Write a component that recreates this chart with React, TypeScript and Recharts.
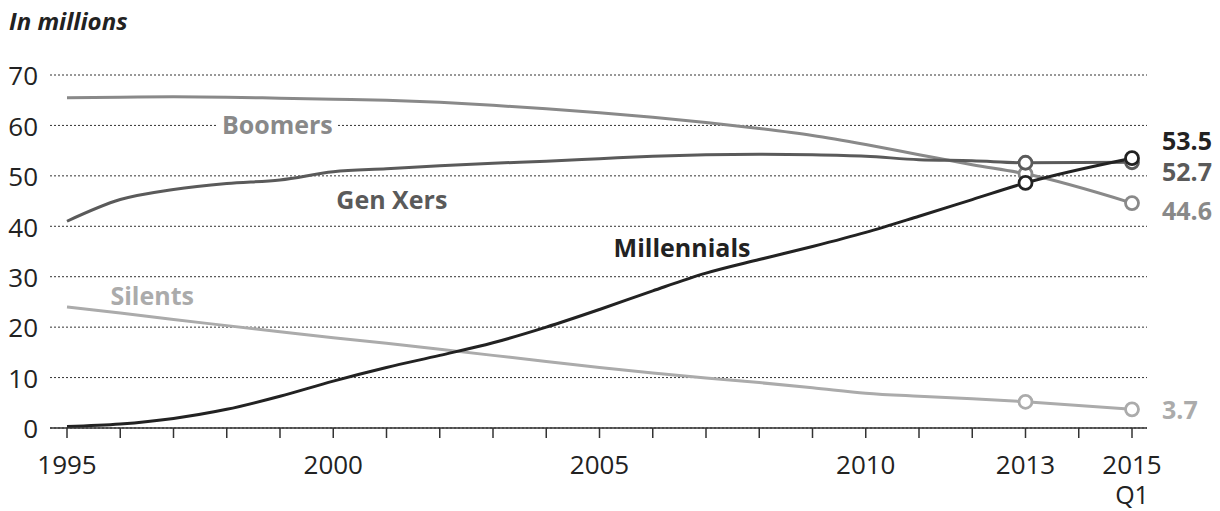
import { LineChart, Line, XAxis, YAxis, CartesianGrid, ReferenceDot } from "recharts";

const years = [1995, 1996, 1997, 1998, 1999, 2000, 2001, 2002, 2003, 2004, 2005, 2006, 2007, 2008, 2009, 2010, 2011, 2012, 2013, 2015];
const millennials = [0.3, 0.8, 1.9, 3.7, 6.3, 9.3, 12.0, 14.4, 16.9, 20.0, 23.5, 27.2, 30.7, 33.4, 36.0, 38.8, 42.0, 45.3, 48.6, 53.5];
const genXers = [41.0, 45.3, 47.3, 48.5, 49.2, 50.8, 51.4, 52.0, 52.5, 52.9, 53.4, 53.9, 54.2, 54.3, 54.2, 53.9, 53.2, 53.0, 52.6, 52.7];
const boomers = [65.5, 65.6, 65.7, 65.6, 65.4, 65.2, 65.0, 64.6, 64.0, 63.3, 62.5, 61.6, 60.6, 59.4, 58.0, 56.2, 54.2, 52.2, 50.4, 44.6];
const silents = [24.0, 22.8, 21.5, 20.3, 19.1, 17.9, 16.8, 15.6, 14.4, 13.2, 12.0, 10.9, 9.9, 9.0, 8.0, 6.9, 6.3, 5.8, 5.2, 3.7];

const xTicks = [1995, 1996, 1997, 1998, 1999, 2000, 2001, 2002, 2003, 2004, 2005, 2006, 2007, 2008, 2009, 2010, 2011, 2012, 2013, 2014, 2015];
const labeledYears = [1995, 2000, 2005, 2010, 2013, 2015];
const yTicks = [0, 10, 20, 30, 40, 50, 60, 70];
const markerYears = [2013, 2015];

const FONT = "'Open Sans', sans-serif";

const series = [
  { key: "silents", name: "Silents", color: "#ababab", values: silents, end: "3.7", endDy: 1, at: [1996.6, 26.2], box: false },
  { key: "boomers", name: "Boomers", color: "#898989", values: boomers, end: "44.6", endDy: 8, at: [1998.95, 60], box: true },
  { key: "genXers", name: "Gen Xers", color: "#5a5a5a", values: genXers, end: "52.7", endDy: 10, at: [2001.1, 45.3], box: false },
  { key: "millennials", name: "Millennials", color: "#222222", values: millennials, end: "53.5", endDy: -17, at: [2006.55, 35.6], box: false },
];

const data = years.map((year, i) => {
  const row: Record<string, number> = { year };
  series.forEach(s => { row[s.key] = s.values[i]; });
  return row;
});

const XTick = (props: any) => {
  const { x, y, payload } = props;
  if (!labeledYears.includes(payload.value)) return <g />;
  return (
    <text x={x} y={y} dy={34} textAnchor="middle" fontFamily={FONT} fontSize={26} fill="#222">
      <tspan x={x}>{payload.value}</tspan>
      {payload.value === 2015 && <tspan x={x} dy={30} fontSize={25}>Q1</tspan>}
    </text>
  );
};

const makeDot = (color: string) => (props: any) => {
  const { cx, cy, payload, index } = props;
  if (!markerYears.includes(payload.year)) return <g key={index} />;
  return <circle key={index} cx={cx} cy={cy} r={6.5} fill="#fff" stroke={color} strokeWidth={2.8} />;
};

const makeEndLabel = (color: string, text: string, dy: number) => (props: any) => {
  const { x, y, index } = props;
  if (index !== years.length - 1) return <g key={index} />;
  return (
    <text key={index} x={x + 30} y={y + dy} dy={9} fontFamily={FONT} fontWeight={700} fontSize={25} fill={color}>{text}</text>
  );
};

const makeNameLabel = (color: string, text: string, box: boolean) => (props: any) => {
  const { cx, cy } = props;
  const w = text.length * 15 + 14;
  return (
    <g>
      {box && <rect x={cx - w / 2} y={cy - 14} width={w} height={28} fill="#fff" />}
      <text x={cx} y={cy} dy={9} textAnchor="middle" fontFamily={FONT} fontWeight={700} fontSize={25} fill={color}>{text}</text>
    </g>
  );
};

export default function App() {
  return (
    <div style={{ position: "absolute", left: 0, top: 0, width: 1220, height: 511, background: "#fff" }}>
      <div style={{ position: "absolute", left: 9, top: 4, fontFamily: FONT, fontWeight: 700, fontStyle: "italic", fontSize: 24, color: "#222" }}>
        In millions
      </div>
      <LineChart width={1220} height={511} data={data} margin={{ top: 75, right: 73, bottom: 33, left: 0 }}>
        <CartesianGrid vertical={false} stroke="#333" strokeDasharray="2 2" />
        <XAxis
          dataKey="year"
          type="number"
          domain={[1995, 2015]}
          ticks={xTicks}
          interval={0}
          padding={{ left: 17, right: 15 }}
          height={50}
          axisLine={{ stroke: "#333", strokeWidth: 1.5 }}
          tickLine={{ stroke: "#333", strokeWidth: 1.5 }}
          tickSize={10}
          tick={<XTick />}
        />
        <YAxis
          type="number"
          domain={[0, 70]}
          ticks={yTicks}
          width={50}
          axisLine={false}
          tickLine={false}
          tickSize={0}
          tickMargin={12}
          tick={{ fontFamily: FONT, fontSize: 26, fill: "#222", dy: 1 }}
        />
        {series.map(s => (
          <ReferenceDot key={s.key + "-name"} x={s.at[0]} y={s.at[1]} r={0} shape={makeNameLabel(s.color, s.name, s.box)} />
        ))}
        {series.map(s => (
          <Line
            key={s.key}
            type="monotone"
            dataKey={s.key}
            stroke={s.color}
            strokeWidth={3}
            dot={makeDot(s.color)}
            activeDot={false}
            label={makeEndLabel(s.color, s.end, s.endDy)}
            isAnimationActive={false}
          />
        ))}
      </LineChart>
    </div>
  );
}
